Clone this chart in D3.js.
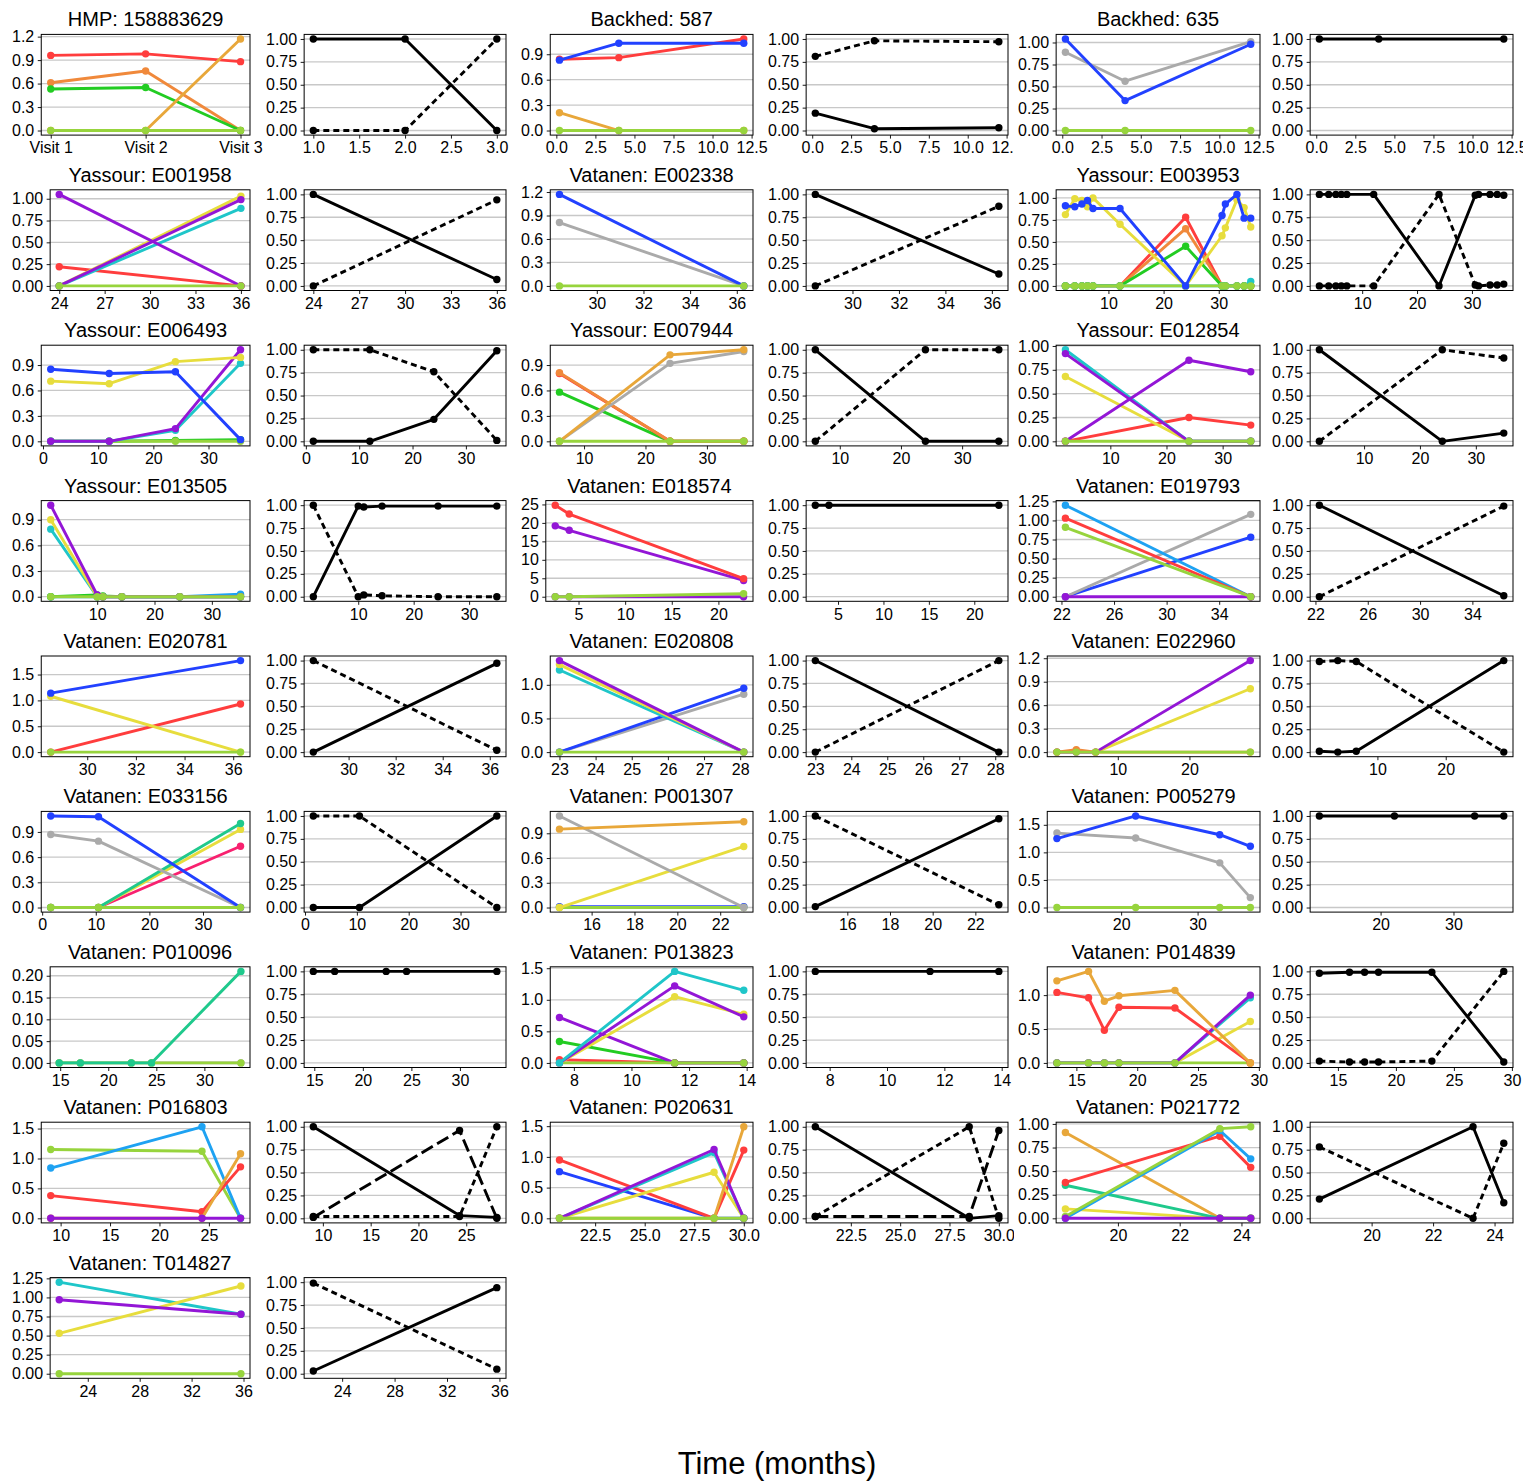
<!DOCTYPE html>
<html>
<head>
<meta charset="utf-8">
<script src="https://cdn.jsdelivr.net/npm/d3@7"></script>
<style>
  body { margin: 0; background: #fff; }
  svg { display: block; }
</style>
</head>
<body>
<svg id="chart" width="1523" height="1482"></svg>
<script>
// ---------------------------------------------------------------------------
// Subjects: each one gets a pair of panels (taxon abundance, strain fractions)
// ---------------------------------------------------------------------------
const subjectTitles = [
  "HMP: 158883629", "Backhed: 587", "Backhed: 635",
  "Yassour: E001958", "Vatanen: E002338", "Yassour: E003953",
  "Yassour: E006493", "Yassour: E007944", "Yassour: E012854",
  "Yassour: E013505", "Vatanen: E018574", "Vatanen: E019793",
  "Vatanen: E020781", "Vatanen: E020808", "Vatanen: E022960",
  "Vatanen: E033156", "Vatanen: P001307", "Vatanen: P005279",
  "Vatanen: P010096", "Vatanen: P013823", "Vatanen: P014839",
  "Vatanen: P016803", "Vatanen: P020631", "Vatanen: P021772",
  "Vatanen: T014827"
];

// Sampling times (months); the HMP subject uses visit indices instead
const sampleMonths = [
  [0, 1, 2],
  [0.2, 4, 12],
  [0.2, 4, 12],
  [24, 36],
  [28.4, 36.3],
  [2.2, 3.9, 5.2, 6.2, 7.2, 12.1, 24, 30.6, 31.2, 33.3, 34.6, 35.8],
  [1.4, 12, 24, 35.8],
  [6, 24, 36],
  [2, 24, 35],
  [1.9, 10, 11, 14.3, 24.4, 35],
  [2.5, 4, 22.7],
  [22.3, 36.4],
  [28.5, 36.3],
  [23, 28.1],
  [1.5, 4.2, 6.9, 28.5],
  [1.6, 10.5, 37],
  [14.5, 23.1],
  [11.6, 21.9, 32.9, 36.9],
  [14.9, 17.1, 22.4, 24.5, 33.8],
  [7.5, 11.5, 13.9],
  [13.4, 16, 17.3, 18.5, 23.1, 29.3],
  [9, 24.3, 28.2],
  [20.7, 28.5, 30.0],
  [18.3, 23.3, 24.3],
  [21.8, 35.8]
];
const hmpVisitNumbers = [1, 2, 3];

// Time-axis tick labels per subject
const timeTickLabels = [
  ["Visit 1", "Visit 2", "Visit 3"],
  ["0.0", "2.5", "5.0", "7.5", "10.0", "12.5"],
  ["0.0", "2.5", "5.0", "7.5", "10.0", "12.5"],
  ["24", "27", "30", "33", "36"],
  ["30", "32", "34", "36"],
  ["10", "20", "30"],
  ["0", "10", "20", "30"],
  ["10", "20", "30"],
  ["10", "20", "30"],
  ["10", "20", "30"],
  ["5", "10", "15", "20"],
  ["22", "26", "30", "34"],
  ["30", "32", "34", "36"],
  ["23", "24", "25", "26", "27", "28"],
  ["10", "20"],
  ["0", "10", "20", "30"],
  ["16", "18", "20", "22"],
  ["20", "30"],
  ["15", "20", "25", "30"],
  ["8", "10", "12", "14"],
  ["15", "20", "25", "30"],
  ["10", "15", "20", "25"],
  ["22.5", "25.0", "27.5", "30.0"],
  ["20", "22", "24"],
  ["24", "28", "32", "36"]
];
const hmpVisitTickLabels = ["1.0", "1.5", "2.0", "2.5", "3.0"];

// Abundance-axis tick labels per subject
const abundanceTickLabels = [
  ["0.0", "0.3", "0.6", "0.9", "1.2"],
  ["0.0", "0.3", "0.6", "0.9"],
  ["0.00", "0.25", "0.50", "0.75", "1.00"],
  ["0.00", "0.25", "0.50", "0.75", "1.00"],
  ["0.0", "0.3", "0.6", "0.9", "1.2"],
  ["0.00", "0.25", "0.50", "0.75", "1.00"],
  ["0.0", "0.3", "0.6", "0.9"],
  ["0.0", "0.3", "0.6", "0.9"],
  ["0.00", "0.25", "0.50", "0.75", "1.00"],
  ["0.0", "0.3", "0.6", "0.9"],
  ["0", "5", "10", "15", "20", "25"],
  ["0.00", "0.25", "0.50", "0.75", "1.00", "1.25"],
  ["0.0", "0.5", "1.0", "1.5"],
  ["0.0", "0.5", "1.0"],
  ["0.0", "0.3", "0.6", "0.9", "1.2"],
  ["0.0", "0.3", "0.6", "0.9"],
  ["0.0", "0.3", "0.6", "0.9"],
  ["0.0", "0.5", "1.0", "1.5"],
  ["0.00", "0.05", "0.10", "0.15", "0.20"],
  ["0.0", "0.5", "1.0", "1.5"],
  ["0.0", "0.5", "1.0"],
  ["0.0", "0.5", "1.0", "1.5"],
  ["0.0", "0.5", "1.0", "1.5"],
  ["0.00", "0.25", "0.50", "0.75", "1.00"],
  ["0.00", "0.25", "0.50", "0.75", "1.00", "1.25"]
];
const fractionTickLabels = ["0.00", "0.25", "0.50", "0.75", "1.00"];

// Taxon abundance series: [taxon id, values at each sample]
// taxon ids: 0..12 (colour assigned from the palette below)
const abundance01 = [[0, [0.96, 0.98, 0.88]], [1, [0.61, 0.76, 0]], [2, [0.53, 0.55, 0]], [3, [0, 0, 1.17]], [12, [0, 0, 0]]];
const abundance02 = [[3, [0.21, 0, 0]], [0, [0.84, 0.86, 1.08]], [4, [0.83, 1.03, 1.03]], [12, [0, 0, 0]]];
const abundance03 = [[5, [0.89, 0.56, 1.01]], [4, [1.04, 0.34, 0.98]], [12, [0, 0, 0]]];
const abundance04 = [[0, [0.22, 0]], [8, [0, 1.03]], [7, [0, 0.89]], [6, [1.05, 0]], [6, [0, 0.99]], [12, [0, 0]]];
const abundance05 = [[5, [0.81, 0]], [4, [1.17, 0]], [12, [0, 0]]];
const abundance06 = [
  [0, [0, 0, 0, 0, 0, 0, 0.78, 0, 0, 0, 0, 0]],
  [1, [0, 0, 0, 0, 0, 0, 0.65, 0, 0, 0, 0, 0]],
  [2, [0, 0, 0, 0, 0, 0, 0.45, 0, 0, 0, 0, 0]],
  [7, [0, 0, 0, 0, 0, 0, 0, 0, 0, 0, 0, 0.05]],
  [12, [0, 0, 0, 0, 0, 0, 0, 0, 0, 0, 0, 0]],
  [8, [0.81, 0.99, 0.97, 0.90, 1.00, 0.70, 0, 0.57, 0.66, 0.98, 0.89, 0.67]],
  [4, [0.91, 0.90, 0.93, 0.97, 0.88, 0.88, 0, 0.80, 0.93, 1.04, 0.77, 0.77]]
];
const abundance07 = [[2, [0, 0, 0.01, 0.02]], [12, [0, 0, 0, 0]], [7, [0, 0, 0.13, 0.92]], [6, [0, 0, 0.15, 1.08]], [8, [0.71, 0.68, 0.94, 0.99]], [4, [0.85, 0.80, 0.82, 0.02]]];
const abundance08 = [[2, [0.58, 0, 0]], [0, [0.80, 0, 0]], [1, [0.81, 0, 0]], [5, [0, 0.92, 1.06]], [3, [0, 1.02, 1.08]], [12, [0, 0, 0]]];
const abundance09 = [[0, [0, 0.25, 0.17]], [8, [0.68, 0, 0]], [7, [0.96, 0, 0]], [6, [0.92, 0, 0]], [6, [0, 0.85, 0.73]], [12, [0, 0, 0]]];
const abundance10 = [[9, [0, 0, 0, 0, 0, 0.03]], [2, [0, 0.02, 0.01, 0, 0, 0]], [7, [0.79, 0, 0, 0, 0, 0]], [8, [0.90, 0, 0, 0, 0, 0]], [6, [1.07, 0.02, 0, 0, 0, 0]], [12, [0, 0, 0, 0, 0, 0]]];
const abundance11 = [[6, [0, 0, 0]], [12, [0, 0, 0.8]], [6, [19.2, 18.0, 4.4]], [0, [24.8, 22.4, 4.9]]];
const abundance12 = [[4, [0, 0.78]], [5, [0, 1.08]], [9, [1.20, 0]], [0, [1.03, 0]], [6, [0, 0]], [12, [0.91, 0]]];
const abundance13 = [[0, [0, 0.93]], [8, [1.08, 0]], [4, [1.14, 1.77]], [12, [0, 0]]];
const abundance14 = [[5, [0, 0.86]], [4, [0, 0.95]], [7, [1.22, 0]], [8, [1.30, 0]], [6, [1.36, 0]], [12, [0, 0]]];
const abundance15 = [[8, [0, 0, 0, 0.81]], [6, [0, 0, 0, 1.17]], [1, [0, 0.03, 0, 0]], [12, [0, 0, 0, 0]]];
const abundance16 = [[10, [0, 0, 0.73]], [8, [0, 0, 0.93]], [11, [0, 0, 1.00]], [5, [0.87, 0.79, 0]], [4, [1.09, 1.08, 0]], [12, [0, 0, 0]]];
const abundance17 = [[4, [0.01, 0.01]], [12, [0, 0]], [8, [0, 0.74]], [5, [1.11, 0]], [3, [0.95, 1.04]]];
const abundance18 = [[5, [1.35, 1.26, 0.81, 0.18]], [4, [1.25, 1.66, 1.32, 1.11]], [12, [0, 0, 0, 0]]];
const abundance19 = [[5, [0, 0, 0, 0, 0]], [12, [0, 0, 0, 0, 0]], [11, [0, 0, 0, 0, 0.21]]];
const abundance20 = [[0, [0.05, 0, 0]], [2, [0.34, 0, 0]], [6, [0.72, 0, 0]], [12, [0, 0, 0]], [8, [0, 1.05, 0.77]], [6, [0, 1.22, 0.73]], [7, [0, 1.45, 1.15]]];
const abundance21 = [
  [8, [0, 0, 0, 0, 0, 0.61]],
  [7, [0, 0, 0, 0, 0, 0.96]],
  [6, [0, 0, 0, 0, 0, 1.0]],
  [12, [0, 0, 0, 0, 0, 0]],
  [0, [1.04, 0.96, 0.48, 0.82, 0.81, 0]],
  [3, [1.21, 1.35, 0.91, 0.99, 1.07, 0]]
];
const abundance22 = [[12, [1.15, 1.12, 0]], [9, [0.84, 1.53, 0]], [0, [0.38, 0.11, 0.86]], [3, [0, 0, 1.08]], [6, [0, 0, 0]]];
const abundance23 = [[4, [0.76, 0, 0]], [0, [0.95, 0, 1.11]], [8, [0, 0.75, 0]], [7, [0, 1.07, 0]], [6, [0, 1.12, 0]], [3, [0, 0, 1.49]], [12, [0, 0, 0]]];
const abundance24 = [[8, [0.10, 0, 0]], [3, [0.91, 0, 0]], [11, [0.35, 0, 0]], [0, [0.38, 0.87, 0.54]], [9, [0, 0.93, 0.63]], [12, [0.02, 0.95, 0.97]], [6, [0, 0, 0]]];
const abundance25 = [[12, [0, 0]], [7, [1.20, 0.78]], [8, [0.53, 1.15]], [6, [0.97, 0.78]]];

// Strain fraction series: first solid, then dashed, then long-dashed
const fraction01 = [[1, 1, 0], [0, 0, 1]];
const fraction02 = [[0.19, 0.02, 0.03], [0.81, 0.98, 0.97]];
const fraction03 = [[1, 1, 1]];
const fraction04 = [[1, 0.07], [0, 0.94]];
const fraction05 = [[1, 0.13], [0, 0.87]];
const fraction06 = [[1, 1, 1, 1, 1, 1, 0, 0.99, 1, 1, 1, 0.99], [0, 0, 0, 0, 0, 0, 1, 0.01, 0, 0.01, 0.01, 0.02]];
const fraction07 = [[0, 0, 0.24, 0.99], [1, 1, 0.76, 0.01]];
const fraction08 = [[1, 0, 0], [0, 1, 1]];
const fraction09 = [[1, 0, 0.09], [0, 1, 0.91]];
const fraction10 = [[0, 0.99, 0.98, 0.99, 0.99, 0.99], [1, 0, 0.02, 0.01, 0, 0]];
const fraction11 = [[1, 1, 1]];
const fraction12 = [[1, 0.01], [0, 0.99]];
const fraction13 = [[0, 0.97], [1, 0.02]];
const fraction14 = [[1, 0], [0, 1]];
const fraction15 = [[0.01, 0, 0.01, 1], [0.99, 1, 0.99, 0]];
const fraction16 = [[0, 0, 1], [1, 1, 0]];
const fraction17 = [[0.01, 0.97], [1, 0.03]];
const fraction18 = [[1, 1, 1, 1]];
const fraction19 = [[1, 1, 1, 1, 1]];
const fraction20 = [[1, 1, 1]];
const fraction21 = [[0.98, 0.99, 0.99, 0.99, 0.99, 0.01], [0.02, 0.01, 0.01, 0.01, 0.02, 1.0]];
const fraction22 = [[1, 0.03, 0.01], [0.02, 0.02, 1.0], [0.01, 0.96, 0]];
const fraction23 = [[1, 0, 0.03], [0.02, 1.0, 0], [0.02, 0.02, 0.96]];
const fraction24 = [[0.21, 1.0, 0.17], [0.78, 0, 0.82]];
const fraction25 = [[0.03, 0.94], [0.99, 0.05]];

const abundanceBySubject = [
  abundance01, abundance02, abundance03, abundance04, abundance05,
  abundance06, abundance07, abundance08, abundance09, abundance10,
  abundance11, abundance12, abundance13, abundance14, abundance15,
  abundance16, abundance17, abundance18, abundance19, abundance20,
  abundance21, abundance22, abundance23, abundance24, abundance25
];
const fractionBySubject = [
  fraction01, fraction02, fraction03, fraction04, fraction05,
  fraction06, fraction07, fraction08, fraction09, fraction10,
  fraction11, fraction12, fraction13, fraction14, fraction15,
  fraction16, fraction17, fraction18, fraction19, fraction20,
  fraction21, fraction22, fraction23, fraction24, fraction25
];

// ---------------------------------------------------------------------------
// Styling and layout
// ---------------------------------------------------------------------------
const FONT = "'Liberation Sans', Arial, Helvetica, sans-serif";
const taxonColor = d3.scaleOrdinal()
  .domain(d3.range(13))
  .range(["#ff3d3d", "#f0893b", "#22cc22", "#e8a73a", "#2241ff", "#aaaaaa",
          "#9316d6", "#1fc6c9", "#e7dd3d", "#1ea2f2", "#f8216f", "#1fc98c", "#97d43d"]);
const fractionDash = [null, "6,4", "13,5"];

const colLabelLeft = [12, 266, 521, 768, 1018, 1272];
const colFrameRight = [250, 506, 753, 1008, 1260, 1513];
const colClipRight = [null, null, null, 1014, null, null];
const rowPitch = 155.4, frameTop0 = 34.4, frameH = 100.7;
const TICK_FS = 16;

const svg = d3.select("#chart");
const defs = svg.append("defs");

function maxTextWidth(labels) {
  const t = svg.append("text").attr("font-size", TICK_FS).attr("font-family", FONT);
  let w = 0;
  labels.forEach(l => { t.text(l); w = Math.max(w, t.node().getComputedTextLength()); });
  t.remove();
  return w;
}

function padded(lo, hi) {
  const m = (hi - lo) * 0.05;
  return [lo - m, hi + m];
}

function drawPanel(p) {
  const top = frameTop0 + rowPitch * p.row;
  const bottom = top + frameH;
  const left = colLabelLeft[p.col] + maxTextWidth(p.yTickLabels) + 7;
  const right = colFrameRight[p.col];

  const g = svg.append("g");
  if (colClipRight[p.col] !== null) {
    const id = "clip-" + p.col + "-" + p.row;
    defs.append("clipPath").attr("id", id)
      .append("rect").attr("x", 0).attr("y", 0)
      .attr("width", colClipRight[p.col]).attr("height", 1482);
    g.attr("clip-path", `url(#${id})`);
  }

  const x = d3.scaleLinear().domain(padded(d3.min(p.xs), d3.max(p.xs))).range([left, right]);
  const y = d3.scaleLinear().domain(p.yDomain).range([bottom, top]);
  const yTickValues = p.yTickLabels.map(Number);

  // horizontal grid
  g.append("g").selectAll("line").data(yTickValues).join("line")
    .attr("x1", left).attr("x2", right)
    .attr("y1", d => y(d)).attr("y2", d => y(d))
    .attr("stroke", "#c8c8c8").attr("stroke-width", 1.3);

  // series: line then its markers
  const lineGen = d3.line().x(d => x(d[0])).y(d => y(d[1]));
  p.lines.forEach(s => {
    const pts = p.xs.map((xv, i) => [xv, s.values[i]]);
    g.append("path").datum(pts)
      .attr("d", lineGen)
      .attr("fill", "none")
      .attr("stroke", s.color)
      .attr("stroke-width", 2.9)
      .attr("stroke-linejoin", "round")
      .attr("stroke-dasharray", s.dash);
    g.append("g").selectAll("circle").data(pts).join("circle")
      .attr("cx", d => x(d[0])).attr("cy", d => y(d[1]))
      .attr("r", 3.7).attr("fill", s.color);
  });

  // frame
  g.append("rect")
    .attr("x", left).attr("y", top)
    .attr("width", right - left).attr("height", frameH)
    .attr("fill", "none").attr("stroke", "#000").attr("stroke-width", 1);

  // axes
  const xLabelOf = new Map(p.xTickValues.map((v, i) => [v, p.xTickLabels[i]]));
  const gx = g.append("g").attr("transform", `translate(0,${bottom})`)
    .call(d3.axisBottom(x).tickValues(p.xTickValues).tickFormat(d => xLabelOf.get(d))
      .tickSize(3.5).tickPadding(3.5).tickSizeOuter(0));
  const yLabelOf = new Map(yTickValues.map((v, i) => [v, p.yTickLabels[i]]));
  const gy = g.append("g").attr("transform", `translate(${left},0)`)
    .call(d3.axisLeft(y).tickValues(yTickValues).tickFormat(d => yLabelOf.get(d))
      .tickSize(3.5).tickPadding(3.5).tickSizeOuter(0));
  [gx, gy].forEach(ax => {
    ax.attr("font-size", TICK_FS).attr("font-family", FONT);
    ax.select(".domain").remove();
    ax.selectAll("line").attr("stroke", "#000").attr("stroke-width", 0.9);
    ax.selectAll("text").attr("fill", "#000");
  });

  if (p.title) {
    g.append("text")
      .attr("x", (left + right) / 2).attr("y", top - 8)
      .attr("text-anchor", "middle")
      .attr("font-family", FONT).attr("font-size", 20).attr("fill", "#000")
      .text(p.title);
  }
}

subjectTitles.forEach((title, i) => {
  const row = Math.floor(i / 3);
  const pairCol = (i % 3) * 2;
  const xs = sampleMonths[i];

  // time ticks: numeric labels map to their value, visit labels to their index
  const tickLabels = timeTickLabels[i];
  const tickValues = tickLabels.map((l, k) => isNaN(+l) ? k : +l);

  const abundance = abundanceBySubject[i];
  const maxA = d3.max(abundance, s => d3.max(s[1]));
  drawPanel({
    col: pairCol, row, title, xs,
    xTickLabels: tickLabels, xTickValues: tickValues,
    yTickLabels: abundanceTickLabels[i],
    yDomain: padded(0, maxA),
    lines: abundance.map(s => ({ color: taxonColor(s[0]), values: s[1], dash: null }))
  });

  const isVisitScale = i === 0;
  const fxs = isVisitScale ? hmpVisitNumbers : xs;
  const fLabels = isVisitScale ? hmpVisitTickLabels : tickLabels;
  drawPanel({
    col: pairCol + 1, row, title: null, xs: fxs,
    xTickLabels: fLabels, xTickValues: fLabels.map((l, k) => isVisitScale ? +l : tickValues[k]),
    yTickLabels: fractionTickLabels,
    yDomain: [-0.05, 1.05],
    lines: fractionBySubject[i].map((v, k) => ({ color: "#000", values: v, dash: fractionDash[k] }))
  });
});

svg.append("text")
  .attr("x", 777).attr("y", 1474)
  .attr("text-anchor", "middle")
  .attr("font-family", FONT).attr("font-size", 31).attr("fill", "#000")
  .text("Time (months)");
</script>
</body>
</html>
